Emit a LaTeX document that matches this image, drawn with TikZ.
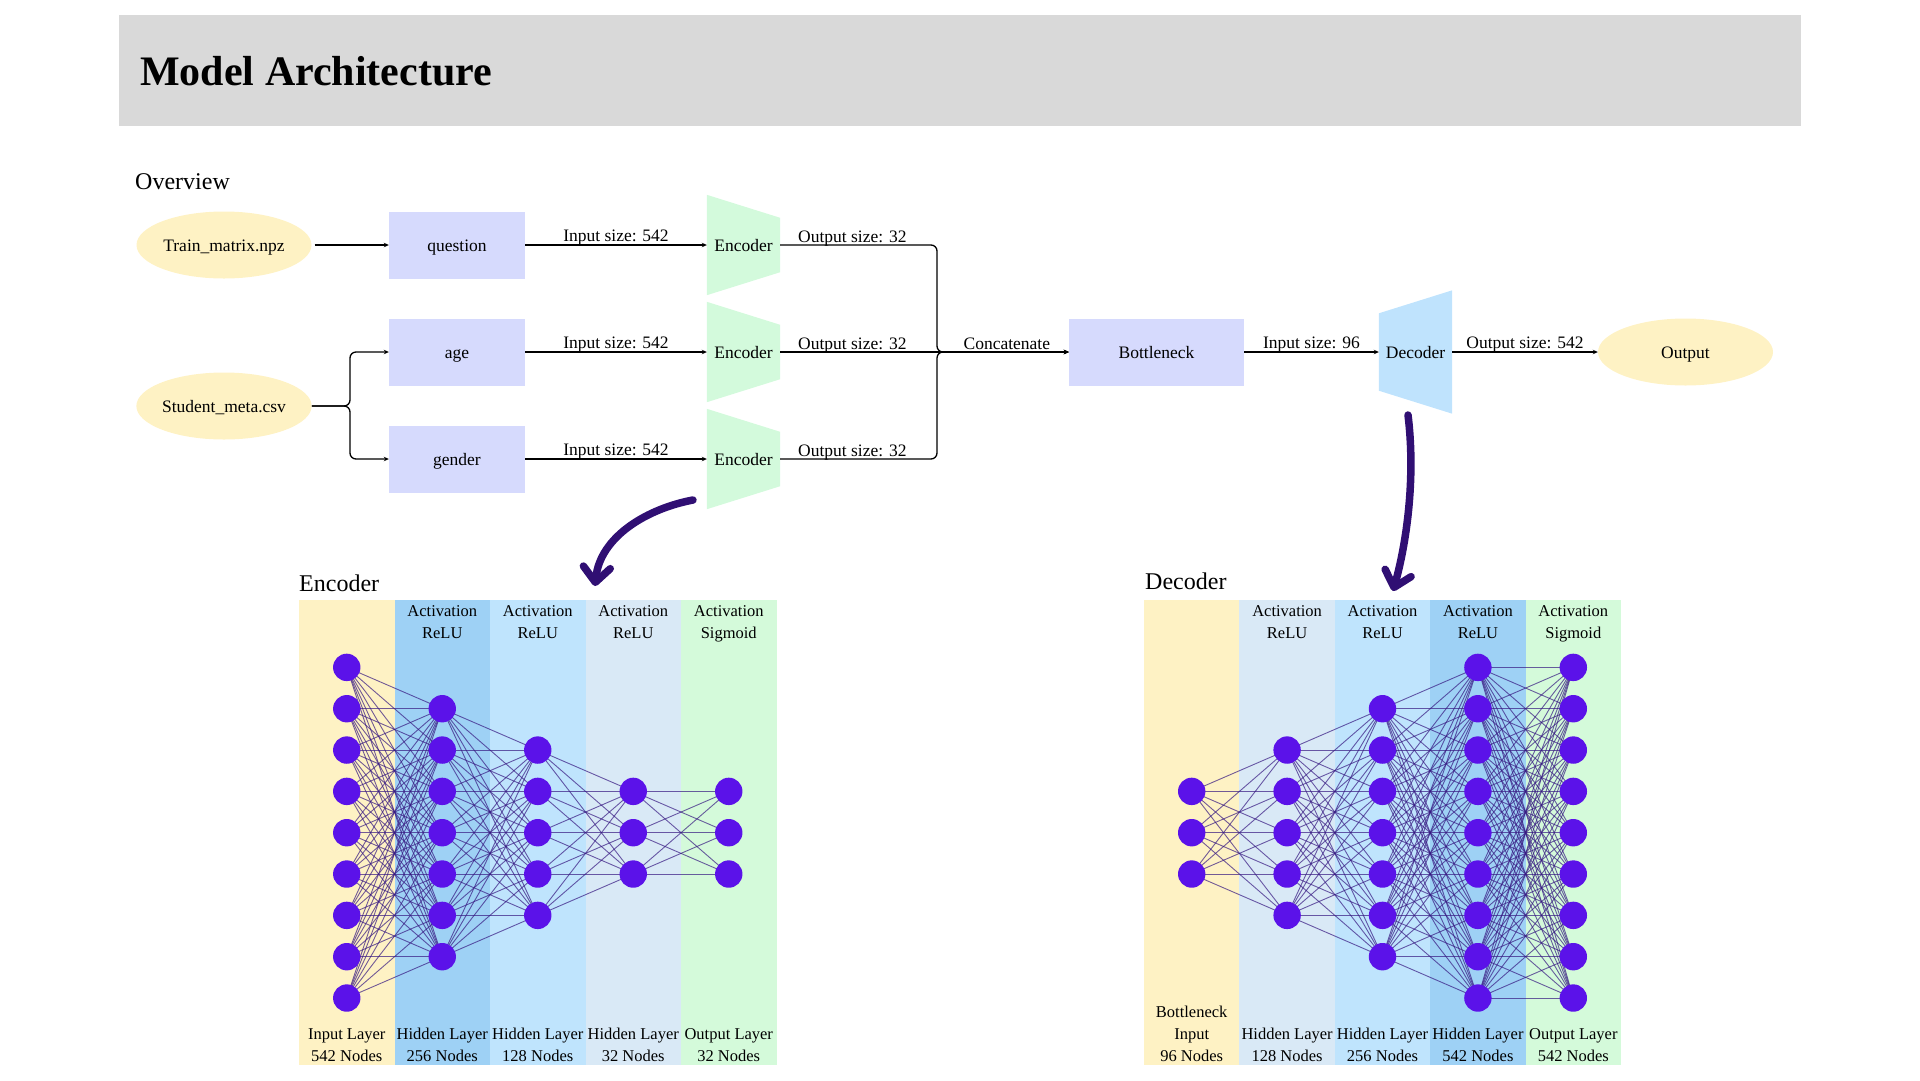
\documentclass[tikz,border=0pt]{standalone}
\usepackage{fontspec}
\setmainfont{Liberation Serif}
\usetikzlibrary{arrows.meta,shapes.geometric,calc}
\pgfdeclarelayer{back}
\pgfdeclarelayer{bg}
\pgfsetlayers{back,bg,main}
\definecolor{titlegray}{RGB}{217,217,217}
\definecolor{ellyel}{RGB}{254,242,196}
\definecolor{boxlav}{RGB}{214,218,253}
\definecolor{encgreen}{RGB}{211,250,220}
\definecolor{decblue}{RGB}{191,227,253}
\definecolor{bandyel}{RGB}{254,242,196}
\definecolor{bandA}{RGB}{158,209,245}
\definecolor{bandB}{RGB}{191,228,253}
\definecolor{bandC}{RGB}{217,233,246}
\definecolor{bandG}{RGB}{212,250,218}
\definecolor{neuron}{RGB}{91,18,233}
\definecolor{wire}{RGB}{55,25,130}
\definecolor{bigarrow}{RGB}{48,15,115}
\begin{document}
\begin{tikzpicture}[x=1pt,y=-1pt,
  every node/.style={font=\fontsize{17.5}{21}\selectfont, text height=15.5pt, text depth=2pt},
  ell/.style={ellipse, fill=ellyel, minimum width=175pt, minimum height=67pt, inner sep=0},
  lavbox/.style={rectangle, fill=boxlav, minimum width=136pt, minimum height=67pt, inner sep=0},
  coder/.style={rectangle, minimum width=73pt, minimum height=#1, inner sep=0},
  conn/.style={line width=1.3pt, -{Stealth[length=5pt,width=4.5pt]}},
  lbl/.style={above, inner sep=0.5pt},
  neu/.style={circle, fill=neuron, minimum size=27.4pt, inner sep=0},
  nnwire/.style={draw=wire, line width=0.9pt, opacity=0.7},
  layt/.style={font=\fontsize{16.5}{20}\selectfont, anchor=base, inner sep=0},
  heading/.style={font=\fontsize{24}{28}\selectfont, anchor=base west, inner sep=0},
  big/.style={draw=bigarrow, line width=7.5pt, line cap=round, -{Straight Barb[length=15pt,width=27pt,round]}},
]
\useasboundingbox (0,0) rectangle (1920,1080);

% ---------- title ----------
\node[fill=titlegray, minimum width=1682pt, minimum height=110.5pt, anchor=north west, inner sep=0] (titlebar) at (119,15) {};
\node[anchor=base west, font=\fontsize{42}{48}\selectfont\bfseries, inner sep=0] (title) at (140,85) {Model Architecture};

% ---------- overview ----------
\node[heading] (ovh) at (135,189) {Overview};

\node[ell] (train) at (224,245) {Train\_matrix.npz};
\node[ell] (stu) at (224,406) {Student\_meta.csv};
\node[lavbox] (q) at (457,245) {question};
\node[lavbox] (age) at (457,352) {age};
\node[lavbox] (gen) at (457,459) {gender};
\node[coder=100pt] (e1) at (743.5,245) {Encoder};
\node[coder=100pt] (e2) at (743.5,352) {Encoder};
\node[coder=100pt] (e3) at (743.5,459) {Encoder};
\node[lavbox, minimum width=175pt] (bott) at (1156.5,352) {Bottleneck};
\node[coder=123pt] (dec) at (1415.5,352) {Decoder};
\node[ell] (out) at (1685.5,352) {Output};

\begin{pgfonlayer}{bg}
\foreach \e in {e1,e2,e3}
  \fill[encgreen] (\e.north west) -- ([yshift=-23pt]\e.north east) -- ([yshift=23pt]\e.south east) -- (\e.south west) -- cycle;
\fill[decblue] ([yshift=-23pt]dec.north west) -- (dec.north east) -- (dec.south east) -- ([yshift=23pt]dec.south west) -- cycle;
\end{pgfonlayer}

\coordinate (fork) at (350,406);
\coordinate (bus) at (937,352);

\draw[conn, shorten <=3pt] (train.east) -- (q.west);
\draw[conn, rounded corners=6pt] (stu.east) -- (fork) |- (age.west);
\draw[conn, rounded corners=6pt] (stu.east) -- (fork) |- (gen.west);

\draw[conn] (q.east) -- node[lbl] {Input size: 542} (e1.west);
\draw[conn] (age.east) -- node[lbl] {Input size: 542} (e2.west);
\draw[conn] (gen.east) -- node[lbl] {Input size: 542} (e3.west);

\draw[conn, rounded corners=6pt] (e1.east) -| (bus) -- (bott.west);
\draw[conn, rounded corners=6pt] (e3.east) -| (bus) -- (bott.west);
\draw[conn] (e2.east) -- (bott.west);
\path (e1.east) -- node[lbl, pos=0.46] {Output size: 32} (e1.east -| bus);
\path (e2.east) -- node[lbl, pos=0.46] {Output size: 32} (bus);
\path (e3.east) -- node[lbl, pos=0.46] {Output size: 32} (e3.east -| bus);
\path (bus) -- node[lbl, pos=0.53] {Concatenate} (bott.west);

\draw[conn] (bott.east) -- node[lbl] {Input size: 96} (dec.west);
\draw[conn] (dec.east) -- node[lbl] {Output size: 542} (out.west);

% ---------- big arrows ----------
\coordinate (ea1) at (693,500);
\coordinate (ea2) at (595,586);
\draw[big] (ea1) .. controls (650,508) and (600,535) .. (ea2);
\coordinate (da1) at (1408,415);
\coordinate (da2) at (1393,591);
\draw[big] (da1) .. controls (1416,480) and (1406,545) .. (da2);

% ---------- encoder network ----------
\node[heading] (ench) at (299,591) {Encoder};
\begin{pgfonlayer}{back}
\foreach \c [count=\i from 0] in {bandyel,bandA,bandB,bandC,bandG}
  \fill[\c] ({299+95.5*\i},600) rectangle ++(95.5,465);
\end{pgfonlayer}
\foreach \n [count=\i from 0] in {9,7,5,3,3}
  \foreach \k in {1,...,\n}
    \node[neu] (E-\i-\k) at ({346.75+95.5*\i},{832.7+(\k-(\n+1)/2)*41.33}) {};
\begin{pgfonlayer}{bg}
\foreach \i/\a/\j/\b in {0/9/1/7,1/7/2/5,2/5/3/3,3/3/4/3}
  \foreach \p in {1,...,\a}
    \foreach \q in {1,...,\b}
      \draw[nnwire] (E-\i-\p.center) -- (E-\j-\q.center);
\end{pgfonlayer}
\foreach \t [count=\i] in {ReLU,ReLU,ReLU,Sigmoid} {
  \node[layt] (EtA\i) at ({346.75+95.5*\i},616) {Activation};
  \node[layt] (EtB\i) at ({346.75+95.5*\i},638) {\t};
}
\foreach \a/\b [count=\i from 0] in {Input Layer/542 Nodes,Hidden Layer/256 Nodes,Hidden Layer/128 Nodes,Hidden Layer/32 Nodes,Output Layer/32 Nodes} {
  \node[layt] (EbA\i) at ({346.75+95.5*\i},1039) {\a};
  \node[layt] (EbB\i) at ({346.75+95.5*\i},1061) {\b};
}

% ---------- decoder network ----------
\node[heading] (dech) at (1145,589) {Decoder};
\begin{pgfonlayer}{back}
\foreach \c [count=\i from 0] in {bandyel,bandC,bandB,bandA,bandG}
  \fill[\c] ({1144+95.4*\i},600) rectangle ++(95.4,465);
\end{pgfonlayer}
\foreach \n [count=\i from 0] in {3,5,7,9,9}
  \foreach \k in {1,...,\n}
    \node[neu] (D-\i-\k) at ({1191.7+95.4*\i},{832.7+(\k-(\n+1)/2)*41.33}) {};
\begin{pgfonlayer}{bg}
\foreach \i/\a/\j/\b in {0/3/1/5,1/5/2/7,2/7/3/9,3/9/4/9}
  \foreach \p in {1,...,\a}
    \foreach \q in {1,...,\b}
      \draw[nnwire] (D-\i-\p.center) -- (D-\j-\q.center);
\end{pgfonlayer}
\foreach \t [count=\i] in {ReLU,ReLU,ReLU,Sigmoid} {
  \node[layt] (DtA\i) at ({1191.7+95.4*\i},616) {Activation};
  \node[layt] (DtB\i) at ({1191.7+95.4*\i},638) {\t};
}
\node[layt] (DbT0) at (1191.7,1017) {Bottleneck};
\foreach \a/\b [count=\i from 0] in {Input/96 Nodes,Hidden Layer/128 Nodes,Hidden Layer/256 Nodes,Hidden Layer/542 Nodes,Output Layer/542 Nodes} {
  \node[layt] (DbA\i) at ({1191.7+95.4*\i},1039) {\a};
  \node[layt] (DbB\i) at ({1191.7+95.4*\i},1061) {\b};
}
\end{tikzpicture}
\end{document}
